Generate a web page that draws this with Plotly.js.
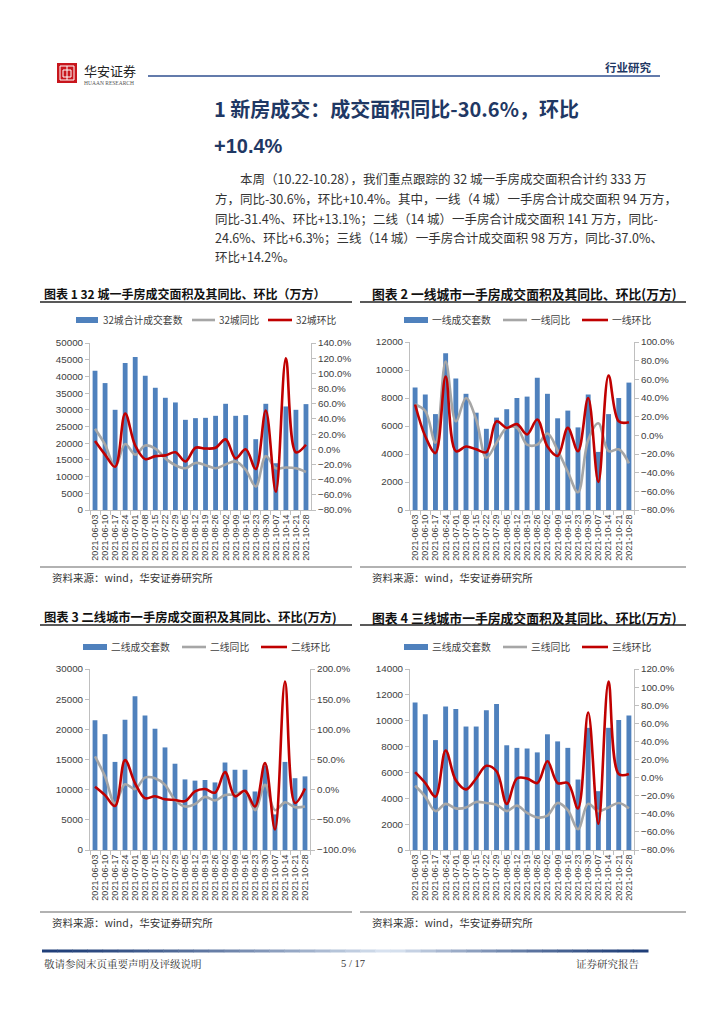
<!DOCTYPE html>
<html>
<head>
<meta charset="utf-8">
<script src="https://cdn.plot.ly/plotly-3.0.1.min.js"></script>
<style>
html,body{margin:0;padding:0;background:#fff;}
#page{width:724px;height:1024px;}
</style>
</head>
<body>
<div id="page"></div>
<script>
// ---------- data ----------
const dates = ['2021-06-03','2021-06-10','2021-06-17','2021-06-24','2021-07-01','2021-07-08','2021-07-15','2021-07-22','2021-07-29','2021-08-05','2021-08-12','2021-08-19','2021-08-26','2021-09-02','2021-09-09','2021-09-16','2021-09-23','2021-09-30','2021-10-07','2021-10-14','2021-10-21','2021-10-28'];

// 32 cities
const c32Volume = [41700,38000,30000,44000,45800,40200,36600,33600,32200,27000,27500,27600,28200,31800,28200,28400,21200,31800,14000,31000,30000,31700];
const c32YoY    = [27,6,-23,7,-7,5,1,-12,-21,-25,-18,-21,-25,-20,-16,-27,-49,-9,-25,-24,-25,-30];
const c32MoM    = [11,-7,-23,47,5,-13,-9,-8,-4,-16,2,1,2,13,-12,0,-26,51,-56,120,-4,6];

// tier 1
const t1Volume = [8750,8250,6850,11200,9400,8300,6950,5800,6600,7200,8000,8100,9450,8300,6550,7100,5900,8250,4150,6850,8000,9100];
const t1YoY    = [33,26,-8,79,15,40,17,-24,-8,8,8,-10,-10,2,-16,-39,-61,-5,13,-17,-15,-30];
const t1MoM    = [33,-1,-19,63,-17,-12,-15,-18,15,8,12,1,17,-12,-22,8,-17,40,-50,64,15,14];

// tier 2
const t2Volume = [21500,19200,14600,21600,25500,22300,20100,17000,14300,11700,11500,11600,11200,14500,13300,13300,9700,14000,5900,14600,11900,12200];
const t2YoY    = [55,22,-23,9,1,20,19,8,-17,-28,-24,-12,-18,-9,-8,-3,-34,8,-34,-21,-29,-28];
const t2MoM    = [5,-9,-27,49,11,-14,-11,-16,-17,-19,-3,1,-5,29,-11,-2,-28,44,-66,179,-22,2];

// tier 3
const t3Volume = [11400,10500,8500,11100,10900,9550,9550,10800,11300,8100,7900,7850,7550,8950,8400,7900,5450,9450,4550,9450,10050,10400];
const t3YoY    = [-9,-21,-37,-29,-34,-33,-27,-28,-30,-37,-31,-39,-44,-42,-28,-36,-57,-29,-37,-33,-28,-34];
const t3MoM    = [6,-6,-21,30,-3,-13,-1,13,7,-29,-1,-1,-6,18,-6,-6,-34,72,-51,106,4,4];

const chartTitles = ['图表 1 32 城一手房成交面积及其同比、环比（万方）','图表 2 一线城市一手房成交面积及其同比、环比(万方)','图表 3 二线城市一手房成交面积及其同比、环比(万方)','图表 4 三线城市一手房成交面积及其同比、环比(万方)'];
const barNames  = ['32城合计成交套数','一线成交套数','二线成交套数','三线成交套数'];
const yoyNames  = ['32城同比','一线同比','二线同比','三线同比'];
const momNames  = ['32城环比','一线环比','二线环比','三线环比'];
const sourceText = '资料来源：wind，华安证券研究所';

const headingLines = ['1 新房成交：成交面积同比-30.6%，环比','+10.4%'];
const paraLines = [
 '本周（10.22-10.28），我们重点跟踪的 32 城一手房成交面积合计约 333 万',
 '方，同比-30.6%，环比+10.4%。其中，一线（4 城）一手房合计成交面积 94 万方，',
 '同比-31.4%、环比+13.1%；二线（14 城）一手房合计成交面积 141 万方，同比-',
 '24.6%、环比+6.3%；三线（14 城）一手房合计成交面积 98 万方，同比-37.0%、',
 '环比+14.2%。'
];

// ---------- layout helpers ----------
const W = 724, H = 1024;
const X = p => p / W;
const Y = p => 1 - p / H;

const BAR = '#4F81BD', GREY = '#A6A6A6', RED = '#C00000';
const AXC = '#BFBFBF';
const xTickFont = {family:'Liberation Sans, Arial, sans-serif', size:9, color:'#404040'};
const yTickFont = {family:'Liberation Sans, Arial, sans-serif', size:9.8, color:'#404040'};
const cjk = 'Noto Sans CJK SC, sans-serif';

const charts = [
  {vol:c32Volume, yoy:c32YoY, mom:c32MoM, box:[90,311,343,510], left:[0,50000,5000], right:[-80,140,20], tsize:12,
   titleX:42, titleY:293, lineX:[40,352], lineY:302, legY:320, leg:[76,98,101, 192,215,217, 268,292,294], srcLineY:567, srcY:577},
  {vol:t1Volume, yoy:t1YoY, mom:t1MoM, box:[410,634,342,510], left:[0,12000,2000], right:[-80,100,20], tsize:12.8,
   titleX:370, titleY:293, lineX:[360,686], lineY:302, legY:320, leg:[404,428,430, 503,527,529, 582,608,610], srcLineY:567, srcY:577},
  {vol:t2Volume, yoy:t2YoY, mom:t2MoM, box:[90,310,669,850], left:[0,30000,5000], right:[-100,200,50], tsize:12.3,
   titleX:42, titleY:617, lineX:[40,352], lineY:625, legY:647, leg:[83,107,109, 182,206,208, 261,287,289], srcLineY:912, srcY:922},
  {vol:t3Volume, yoy:t3YoY, mom:t3MoM, box:[410,634,669,850], left:[0,14000,2000], right:[-80,120,20], tsize:12.8,
   titleX:370, titleY:617, lineX:[360,686], lineY:625, legY:647, leg:[404,428,430, 503,527,529, 582,608,610], srcLineY:912, srcY:922}
];

const traces = [];
const layout = {
  width: W, height: H,
  margin: {l:0, r:0, t:0, b:0},
  paper_bgcolor: '#fff', plot_bgcolor: 'rgba(0,0,0,0)',
  showlegend: false,
  bargap: 0.52,
  shapes: [], annotations: []
};

charts.forEach((c, i) => {
  const xa = i === 0 ? 'x' : 'x' + (i + 1);
  const yl = i === 0 ? 'y' : 'y' + (2 * i + 1);
  const yr = 'y' + (2 * i + 2);
  const xk = i === 0 ? 'xaxis' : 'xaxis' + (i + 1);
  const ylk = i === 0 ? 'yaxis' : 'yaxis' + (2 * i + 1);
  const yrk = 'yaxis' + (2 * i + 2);

  traces.push({type:'bar', name:barNames[i], x:dates, y:c.vol, xaxis:xa, yaxis:yl, marker:{color:BAR}, hoverinfo:'skip'});
  traces.push({type:'scatter', mode:'lines', name:yoyNames[i], x:dates, y:c.yoy, xaxis:xa, yaxis:yr,
               line:{color:GREY, width:2.6, shape:'spline', smoothing:1}, hoverinfo:'skip'});
  traces.push({type:'scatter', mode:'lines', name:momNames[i], x:dates, y:c.mom, xaxis:xa, yaxis:yr,
               line:{color:RED, width:2.6, shape:'spline', smoothing:1}, hoverinfo:'skip'});

  const [x0, x1, yTop, yBot] = c.box;
  layout[xk] = {domain:[X(x0), X(x1)], anchor:yl, type:'category', range:[-0.5, dates.length - 0.5],
    tickmode:'array', tickvals:dates, ticktext:dates,
    tickangle:-90, showline:true, linecolor:AXC, linewidth:1, ticks:'outside', tickson:'boundaries',
    ticklen:4, tickcolor:AXC, tickfont:xTickFont, showgrid:false, zeroline:false, fixedrange:true};
  layout[ylk] = {domain:[Y(yBot), Y(yTop)], anchor:xa, range:[c.left[0], c.left[1]], dtick:c.left[2], tick0:0,
    tickformat:'d', showline:true, linecolor:AXC, ticks:'outside', ticklen:4, tickcolor:AXC,
    tickfont:yTickFont, showgrid:false, zeroline:false, fixedrange:true};
  layout[yrk] = {overlaying:yl, side:'right', anchor:xa, range:[c.right[0], c.right[1]], dtick:c.right[2], tick0:0,
    tickformat:'.1f', ticksuffix:'%', showline:true, linecolor:AXC, ticks:'outside', ticklen:4, tickcolor:AXC,
    tickfont:yTickFont, showgrid:false, zeroline:false, fixedrange:true};

  // title + rule
  layout.annotations.push({xref:'paper', yref:'paper', x:X(c.titleX), y:Y(c.titleY), xanchor:'left', yanchor:'middle',
    text:'<b>' + chartTitles[i] + '</b>', showarrow:false, font:{family:cjk, size:c.tsize, color:'#111'}});
  layout.shapes.push({type:'line', xref:'paper', yref:'paper', x0:X(c.lineX[0]), x1:X(c.lineX[1]),
    y0:Y(c.lineY), y1:Y(c.lineY), line:{color:'#222', width:1.3}});

  // legend (drawn)
  const L = c.leg;
  layout.shapes.push({type:'rect', xref:'paper', yref:'paper', x0:X(L[0]), x1:X(L[1]), y0:Y(c.legY + 3), y1:Y(c.legY - 3),
    fillcolor:BAR, line:{width:0}});
  layout.shapes.push({type:'line', xref:'paper', yref:'paper', x0:X(L[3]), x1:X(L[4]), y0:Y(c.legY), y1:Y(c.legY),
    line:{color:GREY, width:2.6}});
  layout.shapes.push({type:'line', xref:'paper', yref:'paper', x0:X(L[6]), x1:X(L[7]), y0:Y(c.legY), y1:Y(c.legY),
    line:{color:RED, width:2.6}});
  [[barNames[i], L[2]], [yoyNames[i], L[5]], [momNames[i], L[8]]].forEach(([t, xx]) => {
    layout.annotations.push({xref:'paper', yref:'paper', x:X(xx), y:Y(c.legY), xanchor:'left', yanchor:'middle',
      text:t, showarrow:false, font:{family:cjk, size:9.8, color:'#404040'}});
  });

  // source rule + text
  layout.shapes.push({type:'line', xref:'paper', yref:'paper', x0:X(c.lineX[0]), x1:X(c.lineX[1]),
    y0:Y(c.srcLineY), y1:Y(c.srcLineY), line:{color:'#999', width:1.3}});
  layout.annotations.push({xref:'paper', yref:'paper', x:X(c.lineX[0] + 10), y:Y(c.srcY), xanchor:'left', yanchor:'middle',
    text:sourceText, showarrow:false, font:{family:cjk, size:10.5, color:'#333'}});
});

// ---------- header ----------
layout.shapes.push({type:'rect', xref:'paper', yref:'paper', x0:X(57), x1:X(77), y0:Y(83), y1:Y(63),
  fillcolor:'#C8161D', line:{width:0}});
layout.shapes.push({type:'rect', xref:'paper', yref:'paper', x0:X(60), x1:X(74), y0:Y(80), y1:Y(66),
  fillcolor:'rgba(0,0,0,0)', line:{color:'#fff', width:1}});
layout.shapes.push({type:'rect', xref:'paper', yref:'paper', x0:X(63), x1:X(71), y0:Y(77), y1:Y(70),
  fillcolor:'rgba(0,0,0,0)', line:{color:'#fff', width:1}});
layout.shapes.push({type:'line', xref:'paper', yref:'paper', x0:X(67), x1:X(67), y0:Y(80), y1:Y(66),
  line:{color:'#fff', width:1}});
layout.annotations.push({xref:'paper', yref:'paper', x:X(82), y:Y(70), xanchor:'left', yanchor:'middle',
  text:'华安证券', showarrow:false, font:{family:cjk, size:13, color:'#222'}});
layout.annotations.push({xref:'paper', yref:'paper', x:X(82), y:Y(83), xanchor:'left', yanchor:'middle',
  text:'HUAAN RESEARCH', showarrow:false, font:{family:'Liberation Serif, serif', size:5.5, color:'#555'}});
layout.shapes.push({type:'line', xref:'paper', yref:'paper', x0:X(148), x1:X(660), y0:Y(76), y1:Y(76),
  line:{color:'#2F4F8F', width:1.3}});
layout.annotations.push({xref:'paper', yref:'paper', x:X(654), y:Y(67), xanchor:'right', yanchor:'middle',
  text:'<b>行业研究</b>', showarrow:false, font:{family:cjk, size:11.5, color:'#1F3864'}});

// ---------- heading + paragraph ----------
layout.annotations.push({xref:'paper', yref:'paper', x:X(212), y:Y(108), xanchor:'left', yanchor:'middle',
  text:'<b>' + headingLines[0] + '</b>', showarrow:false, font:{family:cjk, size:20, color:'#1F3864'}});
layout.annotations.push({xref:'paper', yref:'paper', x:X(212), y:Y(146), xanchor:'left', yanchor:'middle',
  text:'<b>' + headingLines[1] + '</b>', showarrow:false, font:{family:'Liberation Sans, Arial, sans-serif', size:20, color:'#1F3864'}});
const paraY = [178, 198, 218, 237, 256];
paraLines.forEach((t, k) => {
  layout.annotations.push({xref:'paper', yref:'paper', x:X(k === 0 ? 238 : 213), y:Y(paraY[k]), xanchor:'left', yanchor:'middle',
    text:t, showarrow:false, font:{family:cjk, size:12.5, color:'#333'}});
});

// ---------- footer ----------
const fx0 = 42, fx1 = 648, fmid = 390, nSeg = 40;
const dark = [31, 62, 120], light = [220, 230, 242];
for (let s = 0; s < nSeg; s++) {
  const a = fx0 + (fx1 - fx0) * s / nSeg, b = fx0 + (fx1 - fx0) * (s + 1) / nSeg;
  const m = (a + b) / 2;
  const t = m < fmid ? (m - fx0) / (fmid - fx0) : (fx1 - m) / (fx1 - fmid);
  const col = dark.map((d, j) => Math.round(d + (light[j] - d) * Math.pow(t, 1.4)));
  layout.shapes.push({type:'line', xref:'paper', yref:'paper', x0:X(a), x1:X(b + 0.5), y0:Y(951), y1:Y(951),
    line:{color:'rgb(' + col.join(',') + ')', width:3}});
}
layout.annotations.push({xref:'paper', yref:'paper', x:X(42), y:Y(963), xanchor:'left', yanchor:'middle',
  text:'敬请参阅末页重要声明及评级说明', showarrow:false, font:{family:'Noto Serif CJK SC, Noto Sans CJK SC, serif', size:10.5, color:'#333'}});
layout.annotations.push({xref:'paper', yref:'paper', x:X(353), y:Y(963), xanchor:'center', yanchor:'middle',
  text:'5 / 17', showarrow:false, font:{family:'Liberation Serif, serif', size:10.5, color:'#333'}});
layout.annotations.push({xref:'paper', yref:'paper', x:X(642), y:Y(963), xanchor:'right', yanchor:'middle',
  text:'证券研究报告', showarrow:false, font:{family:'Noto Serif CJK SC, Noto Sans CJK SC, serif', size:10.5, color:'#333'}});

Plotly.newPlot('page', traces, layout, {staticPlot:true, displayModeBar:false});
</script>
</body>
</html>
